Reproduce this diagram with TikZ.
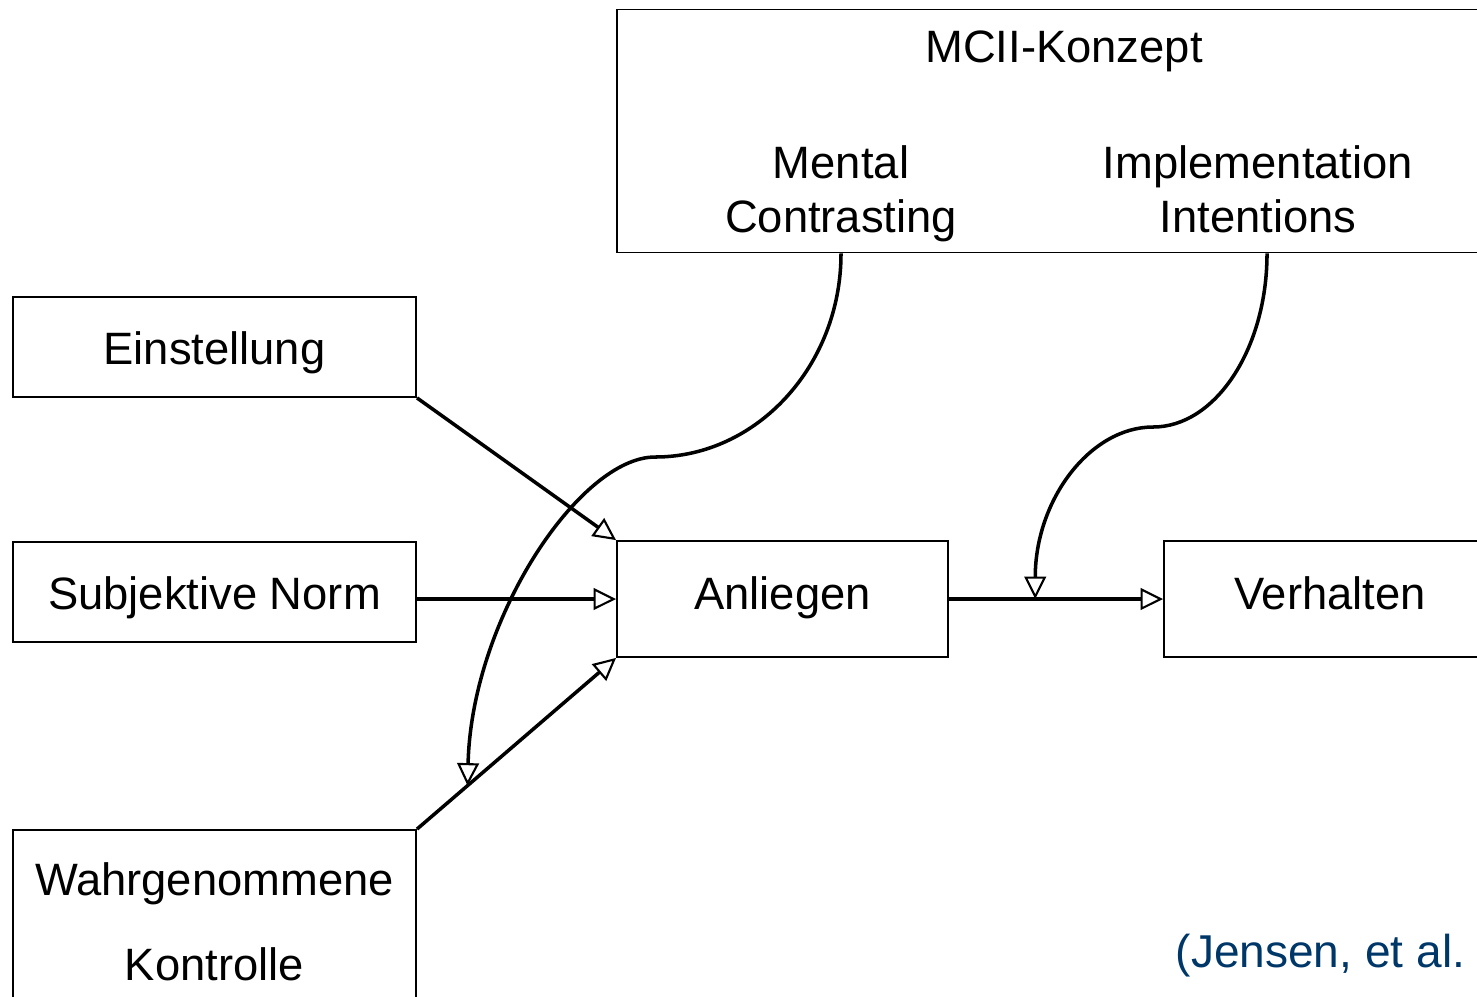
\documentclass[tikz,border=0pt]{standalone}
\usepackage{fontspec}
\setmainfont{Liberation Sans}
\usepackage{xcolor}
\usetikzlibrary{calc,arrows.meta}
\definecolor{jensenblue}{RGB}{0,55,105}
\tikzset{
	box/.style={draw,line width=0.5pt,inner sep=0pt,text depth=0pt},
	txt/.style={inner sep=0pt},
	arr/.style={line width=1pt,-{Triangle[open,length=6.4pt,width=6.2pt,line width=0.6pt]}}
}
\begin{document}
\begin{tikzpicture}[x=0.01cm,y=-0.01cm,font=\fontsize{12.9}{15.4}\selectfont]
	\useasboundingbox (0,0) rectangle (1477,996);
	\clip (0,0) rectangle (1477,996);

	\node[box,minimum width=8.94cm,minimum height=2.43cm] (mcii) at (1064,131) {};
	\node[txt,anchor=base] (mctitle) at (1064,62) {MCII-Konzept};
	\node[txt,anchor=north,align=center] (mc) at (841,145) {Mental\\Contrasting};
	\node[txt,anchor=north,align=center] (ii) at (1258,145) {Implementation\\Intentions};

	\node[box,minimum width=4.03cm,minimum height=1.0cm,text height=0.34cm] (ein) at (214.5,347) {Einstellung};
	\node[box,minimum width=4.03cm,minimum height=1.0cm,text height=0.34cm] (sn) at (214.5,592) {Subjektive Norm};
	\node[box,minimum width=4.03cm,minimum height=2.0cm] (ko) at (214.5,930) {};
	\node[txt,anchor=north,align=center,font=\fontsize{12.9}{24.2}\selectfont] (kotext) at (214.5,862) {Wahrgenommene\\Kontrolle};
	\node[box,minimum width=3.31cm,minimum height=1.16cm,text height=0.2cm] (al) at (782.5,599) {Anliegen};
	\node[box,minimum width=3.32cm,minimum height=1.16cm,text height=0.2cm] (vh) at (1330,599) {Verhalten};

	\node[txt,anchor=base west,text=jensenblue,font=\fontsize{13.1}{15.4}\selectfont] (src) at (1175,967) {(Jensen, et al.};

	\foreach \a/\b in {ein.south east/al.north west,al.west -| sn.east/al.west,ko.north east/al.south west,al.east/vh.west}
		\draw[arr] (\a) -- (\b);

	\coordinate (kohit) at ($(ko.north east)!0.254!(al.south west)$);
	\coordinate (vhhit) at ($(al.east)!0.403!(vh.west)$);
	\coordinate (mcbend) at (655,457);
	\coordinate (iibend) at (1153,427);

	\draw[arr] (mc |- mcii.south) .. controls +(0,112) and +(102,0) .. (mcbend)
		.. controls +(-75,0) and +(4,-167) .. (kohit);
	\draw[arr] ($(ii |- mcii.south)+(9,0)$) .. controls +(0,96) and +(62,0) .. (iibend)
		.. controls +(-63,0) and +(0,-99) .. (vhhit);
\end{tikzpicture}
\end{document}
